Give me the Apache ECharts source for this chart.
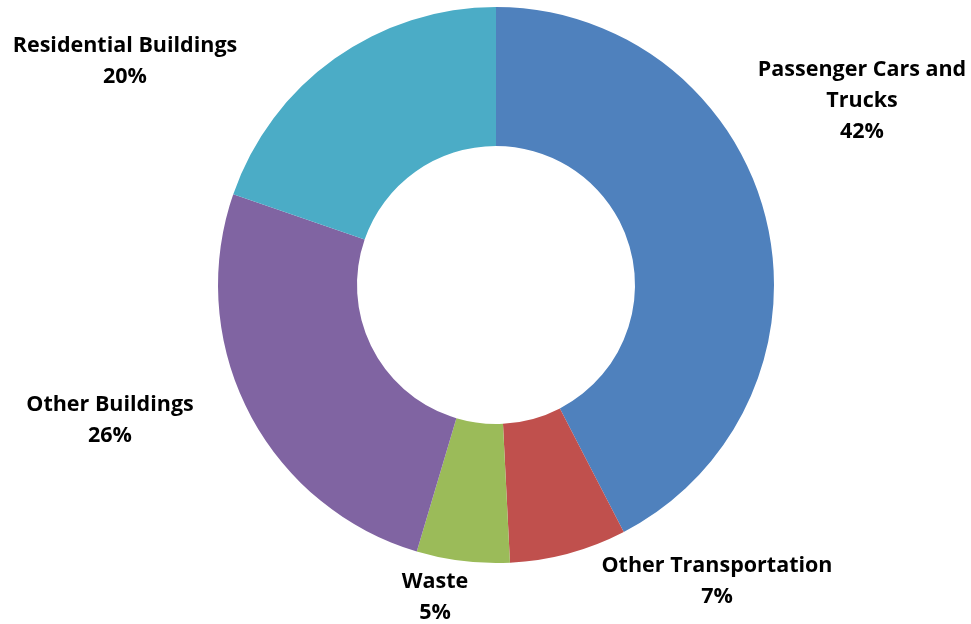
<!DOCTYPE html>
<html>
  <head>
    <meta charset="UTF-8">
    <title>Emissions by source</title>
    <script src="https://cdn.jsdelivr.net/npm/echarts@6/dist/echarts.min.js"></script>
  </head>
  <body style="margin:0;background:#fff;">
    <div id="myChart" style="width:971px;height:624px;"></div>
    <script type="text/javascript">
      // categories and shares (percent)
      var categories = ['Passenger Cars and\nTrucks', 'Other Transportation', 'Waste', 'Other Buildings', 'Residential Buildings'];
      var shares = [42.4, 6.8, 5.4, 25.7, 19.7];
      var colors = ['#4F81BD', '#C0504D', '#9BBB59', '#8064A2', '#4BACC6'];

      // where each label sits (label centre)
      var labelSpots = [[862, 101], [717, 581], [435, 597], [110, 420], [125, 61]];

      var myChart = echarts.init(document.getElementById('myChart'));

      var data = categories.map(function (name, i) {
        return { name: name, value: shares[i], itemStyle: { color: colors[i] } };
      });

      myChart.setOption({
        animation: false,
        series: [
          {
            type: 'pie',
            center: [496, 285],
            radius: [139, 278],
            startAngle: 90,
            clockwise: true,
            label: {
              show: true,
              position: 'outside',
              formatter: function (p) {
                return p.name + '\n' + Math.round(p.value) + '%';
              },
              fontFamily: 'Open Sans',
              fontWeight: 'bold',
              fontSize: 21.5,
              lineHeight: 31,
              color: '#000',
              align: 'center',
              overflow: 'none'
            },
            labelLine: { show: false },
            labelLayout: function (params) {
              var p = labelSpots[params.dataIndex];
              return { x: p[0], y: p[1], align: 'center', verticalAlign: 'middle', hideOverlap: false };
            },
            data: data
          }
        ]
      });
    </script>
  </body>
</html>
